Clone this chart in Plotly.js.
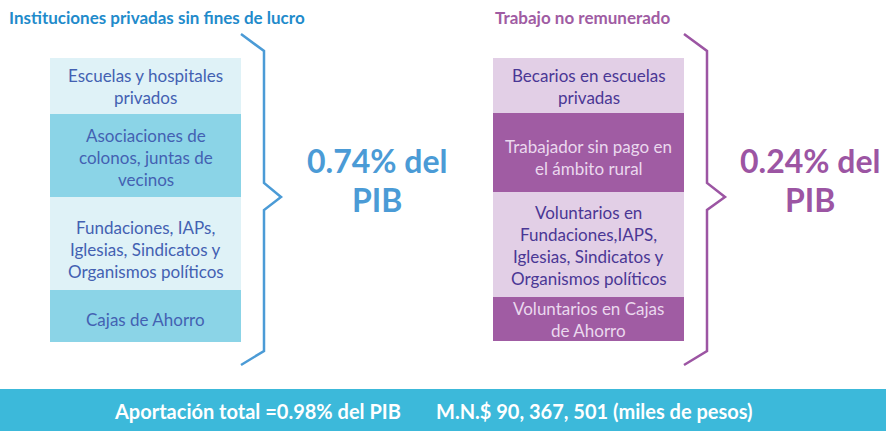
<!DOCTYPE html>
<html>
<head>
<meta charset="utf-8">
<script src="https://cdn.plot.ly/plotly-3.0.1.min.js"></script>
<style>html,body{margin:0;padding:0;background:#fff;}#chart{width:889px;height:431px;}</style>
</head>
<body>
<div id="chart"></div>
<script>
// ---- data ----
const leftTitle = "Instituciones privadas sin fines de lucro";
const leftCategories = [
  "Escuelas y hospitales<br>privados",
  "Asociaciones de<br>colonos, juntas de<br>vecinos",
  "Fundaciones, IAPs,<br>Iglesias, Sindicatos y<br>Organismos políticos",
  "Cajas de Ahorro"
];
const leftShare = "0.74";
const rightTitle = "Trabajo no remunerado";
const rightCategories = [
  "Becarios en escuelas<br>privadas",
  "Trabajador sin pago en<br>el ámbito rural",
  "Voluntarios en<br>Fundaciones,IAPS,<br>Iglesias, Sindicatos y<br>Organismos políticos",
  "Voluntarios en Cajas<br>de Ahorro"
];
const rightShare = "0.24";
const totalShare = "0.98";
const totalAmount = "90, 367, 501";

// ---- layout constants ----
const FONT = "Lato, 'Open Sans', sans-serif";
const LINE_H = 22;
const panels = [
  {cats: leftCategories, title: leftTitle, titleX: 7, share: leftShare,
   x0: 50, x1: 241, edges: [58,114,197,290,342], offs: [0,2,6,3],
   fills: ["#dff2f7","#8bd4e7","#dff2f7","#8bd4e7"],
   txt: ["#4361b2","#4361b2","#4361b2","#4361b2"],
   accent: "#4b9bd6", titleColor: "#1f8bcb", braceX: 264, tipX: 281, shareX: 377},
  {cats: rightCategories, title: rightTitle, titleX: 493, share: rightShare,
   x0: 493, x1: 684, edges: [58,113,192,297,341], offs: [1,5,1,0],
   fills: ["#e2cfe6","#a05ca3","#e2cfe6","#a05ca3"],
   txt: ["#4a3795","#ead8ee","#4a3795","#ead8ee"],
   accent: "#9c55a3", titleColor: "#a05ca3", braceX: 707, tipX: 725, shareX: 810}
];

const shapes = [];
const annotations = [];

panels.forEach(p => {
  annotations.push({x: p.titleX, y: 17, xref:'x', yref:'y', xanchor:'left', yanchor:'middle',
    text: "<b>"+p.title+"</b>", showarrow:false,
    font:{family:FONT, size:17, color:p.titleColor}});
  p.cats.forEach((c,i) => {
    const y0 = p.edges[i], y1 = p.edges[i+1];
    shapes.push({type:'rect', xref:'x', yref:'y', x0:p.x0, x1:p.x1, y0:y0, y1:y1,
      fillcolor:p.fills[i], line:{width:0}, layer:'below'});
    const lines = c.split("<br>");
    const mid = (y0+y1)/2 + p.offs[i];
    lines.forEach((ln,k) => {
      annotations.push({x:(p.x0+p.x1)/2, y: mid + (k-(lines.length-1)/2)*LINE_H,
        xref:'x', yref:'y', xanchor:'center', yanchor:'middle', text: ln, showarrow:false,
        font:{family:FONT, size:17, color:p.txt[i]}});
    });
  });
  const bx = p.braceX, tx = p.tipX;
  shapes.push({type:'path', xref:'x', yref:'y',
    path:`M${p.x1},34 L${bx},51 L${bx},183 L${tx},197 L${bx},210 L${bx},351 L${p.x1},365`,
    line:{color:p.accent, width:2.5}, fillcolor:'rgba(0,0,0,0)'});
  annotations.push({x:p.shareX, y:160, xref:'x', yref:'y', xanchor:'center', yanchor:'middle',
    text:"<b>"+p.share+"% del</b>", showarrow:false, font:{family:FONT, size:32, color:p.accent}});
  annotations.push({x:p.shareX, y:199, xref:'x', yref:'y', xanchor:'center', yanchor:'middle',
    text:"<b>PIB</b>", showarrow:false, font:{family:FONT, size:32, color:p.accent}});
});

shapes.push({type:'rect', xref:'x', yref:'y', x0:0, x1:886, y0:389, y1:431,
  fillcolor:'#3cb9da', line:{width:0}, layer:'below'});
annotations.push({x:257, y:411, xref:'x', yref:'y', xanchor:'center', yanchor:'middle',
  text:"<b>Aportación total =" + totalShare + "% del PIB</b>", showarrow:false,
  font:{family:FONT, size:20, color:'#ffffff'}});
annotations.push({x:594, y:411, xref:'x', yref:'y', xanchor:'center', yanchor:'middle',
  text:"<b>M.N.$ " + totalAmount + " (miles de pesos)</b>", showarrow:false,
  font:{family:FONT, size:20, color:'#ffffff'}});

const layout = {
  width:889, height:431, margin:{l:0,r:0,t:0,b:0},
  paper_bgcolor:'#ffffff', plot_bgcolor:'#ffffff', showlegend:false,
  xaxis:{range:[0,889], visible:false, fixedrange:true},
  yaxis:{range:[431,0], visible:false, fixedrange:true},
  shapes: shapes, annotations: annotations
};
Plotly.newPlot('chart', [{x:[], y:[], type:'scatter'}], layout, {staticPlot:true, displayModeBar:false});
</script>
</body>
</html>
